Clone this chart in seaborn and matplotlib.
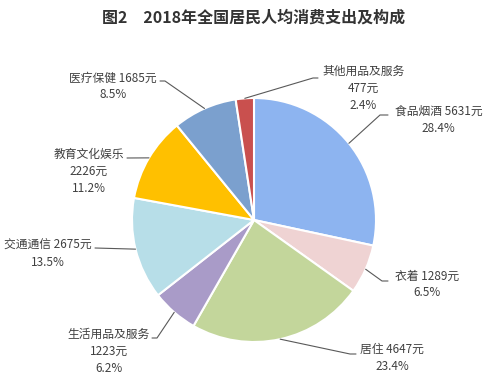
import matplotlib
matplotlib.use("Agg")
import matplotlib.pyplot as plt
import seaborn as sns
import numpy as np

sns.set_theme(style="white")
plt.rcParams['font.family'] = ['Noto Sans CJK SC', 'DejaVu Sans']

categories = ["食品烟酒", "衣着", "居住", "生活用品及服务", "交通通信", "教育文化娱乐", "医疗保健", "其他用品及服务"]
values = [5631, 1289, 4647, 1223, 2675, 2226, 1685, 477]
percents = ["28.4%", "6.5%", "23.4%", "6.2%", "13.5%", "11.2%", "8.5%", "2.4%"]
colors = ["#8DB4F0", "#EFD3D3", "#C3D69B", "#A99BC8", "#B7DEE8", "#FFC000", "#7BA0CE", "#C9504E"]
title = "图2　2018年全国居民人均消费支出及构成"

# label layout (pixel positions in the 501x390 canvas)
CX, CY, R = 254, 220, 122
label_text = [
    "食品烟酒 5631元\n28.4%",
    "衣着 1289元\n6.5%",
    "居住 4647元\n23.4%",
    "生活用品及服务\n1223元\n6.2%",
    "交通通信 2675元\n13.5%",
    "教育文化娱乐\n2226元\n11.2%",
    "医疗保健 1685元\n8.5%",
    "其他用品及服务\n477元\n2.4%",
]
# (x edge, y centre, horizontal anchor)
label_pos = [(395, 119.5, "left"), (395, 284.5, "left"), (360, 358, "left"), (150, 351, "right"),
             (92, 253.5, "right"), (124, 171.5, "right"), (157, 86.5, "right"), (322, 88.5, "left")]
leader_pts = [
    [(380, 115), (388, 115)],
    [(382, 281), (388, 281)],
    [(350, 354), (356, 354)],
    [(157, 338), (152, 338)],
    [(95, 248)],
    [(127, 158)],
    [(165, 81), (160, 81)],
    [(313, 78), (318, 78)],
]

W, H = 501, 390
fig = plt.figure(figsize=(W / 100, H / 100), dpi=100)
ax = fig.add_axes([(CX - R) / W, (H - CY - R) / H, 2 * R / W, 2 * R / H])
wedges, _ = ax.pie(values, colors=colors, startangle=90, counterclock=False, radius=1,
                   wedgeprops=dict(edgecolor="white", linewidth=1.5))
ax.set_xlim(-1, 1)
ax.set_ylim(-1, 1)
ax.set_aspect("equal")
ax.axis("off")

def to_data(p):
    return ((p[0] - CX) / R, (CY - p[1]) / R)

for w, txt, pos, pts in zip(wedges, label_text, label_pos, leader_pts):
    mid = np.deg2rad((w.theta1 + w.theta2) / 2)
    start = (np.cos(mid), np.sin(mid))
    path = [start] + [to_data(p) for p in pts]
    xs, ys = zip(*path)
    ax.plot(xs, ys, color="#595959", lw=0.8, clip_on=False)
    tx, ty = to_data(pos[:2])
    ax.text(tx, ty, txt, ha=pos[2], va="center", fontsize=8.5, color="#404040",
            linespacing=1.4, multialignment="center", clip_on=False)

fig.text(254 / W, 1 - 18 / H, title, ha="center", va="center", fontsize=11.5,
         fontweight="bold", color="#333333")

fig.savefig("out.png", dpi=100)
